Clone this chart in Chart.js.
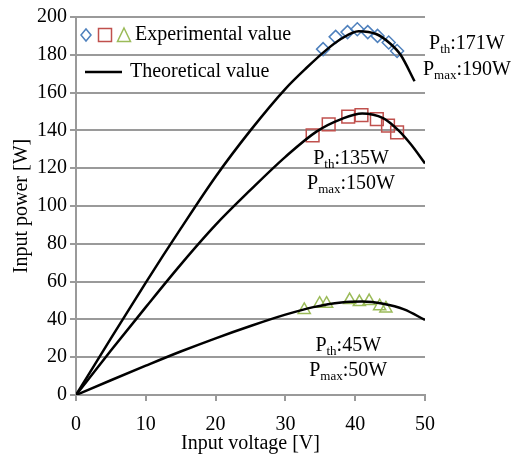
<!DOCTYPE html>
<html>
<head>
<meta charset="utf-8">
<script src="https://cdn.jsdelivr.net/npm/chart.js@4.4.0/dist/chart.umd.min.js"></script>
<style>
  html, body { margin: 0; padding: 0; background: #fff; }
</style>
</head>
<body>
<canvas id="chart" width="520" height="460"></canvas>
<script>
// --- theoretical curves ---
const theoV190 = [0, 5, 10, 15, 20, 25, 30, 33, 36, 38, 40.5, 43, 45, 46.5, 48.5];
const theoP190 = [0, 30, 59.5, 88, 115.5, 140, 162, 173, 183, 188.5, 192.5, 191, 186, 180, 166];

const theoV150 = [0, 5, 10, 15, 20, 25, 30, 34.5, 38, 41, 44, 46.2, 48, 50];
const theoP150 = [0, 23.5, 46.5, 69, 90, 108.5, 126, 139.5, 146, 149, 146.5, 140, 132.5, 122.5];

const theoV50 = [0, 5, 10, 15, 20, 25, 30, 34, 38, 41, 44, 47, 50];
const theoP50 = [0, 7.8, 15.5, 23, 30, 36.5, 42.5, 46.5, 49, 49.5, 48.3, 45.3, 39.7];

// --- experimental values ---
const expV190 = [35.4, 37.2, 38.9, 40.3, 41.8, 43.2, 44.8, 46.0];
const expP190 = [183, 189.5, 192, 193.5, 192, 190, 186.5, 182];

const expV150 = [33.9, 36.2, 39.0, 40.9, 43.1, 44.7, 46.0];
const expP150 = [137.4, 143.2, 147.3, 148.1, 146, 142.5, 139];

const expV50 = [32.7, 34.9, 35.9, 39.2, 40.6, 42.0, 43.5, 44.4];
const expP50 = [45, 48.3, 48.3, 50.2, 49.2, 49.7, 47, 45.8];

// --- axis ---
const xTicks = [0, 10, 20, 30, 40, 50];
const yTicks = [0, 20, 40, 60, 80, 100, 120, 140, 160, 180, 200];

// --- annotation texts ---
const powerLabels = [
  { th: '171W', max: '190W' },
  { th: '135W', max: '150W' },
  { th: '45W', max: '50W' }
];

const FONT = "'Liberation Serif', 'Times New Roman', serif";
const BLUE = '#4F81BD';
const RED = '#C0504D';
const GREEN = '#9BBB59';

function toPoints(xs, ys) {
    return xs.map((x, i) => ({ x: x, y: ys[i] }));
}

function theoDataset(xs, ys) {
    return {
        data: toPoints(xs, ys),
        showLine: true,
        borderColor: '#000',
        borderWidth: 2.5,
        pointRadius: 0,
        cubicInterpolationMode: 'monotone',
        order: 0
    };
}

function expDataset(xs, ys, style, color, radius) {
    return {
        data: toPoints(xs, ys),
        showLine: false,
        pointStyle: style,
        pointRadius: radius,
        pointBorderColor: color,
        pointBackgroundColor: 'rgba(0,0,0,0)',
        pointBorderWidth: 1.5,
        order: 1
    };
}

// texte "P_th:xxx" avec indice
function drawSubText(ctx, cx, cy, sub, rest) {
    const big = '20px ' + FONT;
    const small = '13px ' + FONT;
    ctx.font = big;
    const wP = ctx.measureText('P').width;
    const wRest = ctx.measureText(rest).width;
    ctx.font = small;
    const wSub = ctx.measureText(sub).width;
    let x = cx - (wP + wSub + wRest) / 2;
    const base = cy + 7;
    ctx.textAlign = 'left';
    ctx.textBaseline = 'alphabetic';
    ctx.fillStyle = '#000';
    ctx.font = big;
    ctx.fillText('P', x, base);
    x += wP;
    ctx.font = small;
    ctx.fillText(sub, x, base + 4);
    x += wSub;
    ctx.font = big;
    ctx.fillText(rest, x, base);
}

const textPlugin = {
    id: 'textPlugin',
    afterDraw(chart) {
        const ctx = chart.ctx;
        const xs = chart.scales.x;
        const ys = chart.scales.y;
        const left = xs.getPixelForValue(xTicks[0]);
        const top = ys.getPixelForValue(yTicks[yTicks.length - 1]);
        ctx.save();

        // --- leyenda ---
        const ly1 = top + 18;
        const ly2 = top + 55;
        let lx = left + 10;
        ctx.lineWidth = 1.5;
        ctx.strokeStyle = BLUE;
        ctx.beginPath();
        ctx.moveTo(lx - 5, ly1);
        ctx.lineTo(lx, ly1 - 6);
        ctx.lineTo(lx + 5, ly1);
        ctx.lineTo(lx, ly1 + 6);
        ctx.closePath();
        ctx.stroke();
        lx += 19;
        ctx.strokeStyle = RED;
        ctx.strokeRect(lx - 6.5, ly1 - 6.5, 13, 13);
        lx += 19;
        ctx.strokeStyle = GREEN;
        ctx.beginPath();
        ctx.moveTo(lx, ly1 - 7);
        ctx.lineTo(lx + 6.5, ly1 + 6.5);
        ctx.lineTo(lx - 6.5, ly1 + 6.5);
        ctx.closePath();
        ctx.stroke();

        ctx.fillStyle = '#000';
        ctx.font = '20px ' + FONT;
        ctx.textAlign = 'left';
        ctx.textBaseline = 'middle';
        ctx.fillText('Experimental value', left + 59, ly1);

        ctx.strokeStyle = '#000';
        ctx.lineWidth = 2.5;
        ctx.beginPath();
        ctx.moveTo(left + 9, ly2);
        ctx.lineTo(left + 46, ly2);
        ctx.stroke();
        ctx.fillText('Theoretical value', left + 54, ly2);

        // --- anotaciones de potencia ---
        const spots = [
            { x: 56.0, y1: 187, y2: 173 },
            { x: 39.4, y1: 126, y2: 112.7 },
            { x: 39.0, y1: 27, y2: 13.8 }
        ];
        powerLabels.forEach((lab, i) => {
            const cx = xs.getPixelForValue(spots[i].x);
            drawSubText(ctx, cx, ys.getPixelForValue(spots[i].y1), 'th', ':' + lab.th);
            drawSubText(ctx, cx, ys.getPixelForValue(spots[i].y2), 'max', ':' + lab.max);
        });

        ctx.restore();
    }
};

const ctx = document.getElementById('chart').getContext('2d');
new Chart(ctx, {
    type: 'scatter',
    data: {
        datasets: [
            theoDataset(theoV190, theoP190),
            theoDataset(theoV150, theoP150),
            theoDataset(theoV50, theoP50),
            expDataset(expV190, expP190, 'rectRot', BLUE, 6.5),
            expDataset(expV150, expP150, 'rect', RED, 9),
            expDataset(expV50, expP50, 'triangle', GREEN, 7)
        ]
    },
    options: {
        responsive: false,
        animation: false,
        layout: { padding: { top: 17, right: 95, left: 0, bottom: 0 } },
        plugins: {
            legend: { display: false },
            tooltip: { enabled: false }
        },
        scales: {
            x: {
                min: xTicks[0],
                max: xTicks[xTicks.length - 1],
                afterFit: (s) => { s.height = 65; },
                grid: { drawOnChartArea: false, tickLength: 6, color: '#9a9a9a', lineWidth: 2 },
                border: { color: '#9a9a9a', width: 2 },
                ticks: { stepSize: xTicks[1] - xTicks[0], color: '#000', font: { family: FONT, size: 20 }, padding: 12, maxRotation: 0 },
                title: { display: true, text: 'Input voltage [V]', color: '#000', font: { family: FONT, size: 20 }, padding: { top: 0, bottom: 4 } }
            },
            y: {
                min: yTicks[0],
                max: yTicks[yTicks.length - 1],
                afterFit: (s) => { s.width = 76; },
                grid: { tickLength: 6, color: '#9a9a9a', lineWidth: 2 },
                border: { color: '#9a9a9a', width: 2 },
                ticks: { stepSize: yTicks[1] - yTicks[0], color: '#000', font: { family: FONT, size: 20 }, padding: 3 },
                title: { display: true, text: 'Input power [W]', color: '#000', font: { family: FONT, size: 20 }, padding: { top: 10, bottom: 0 } }
            }
        }
    },
    plugins: [textPlugin]
});
</script>
</body>
</html>
